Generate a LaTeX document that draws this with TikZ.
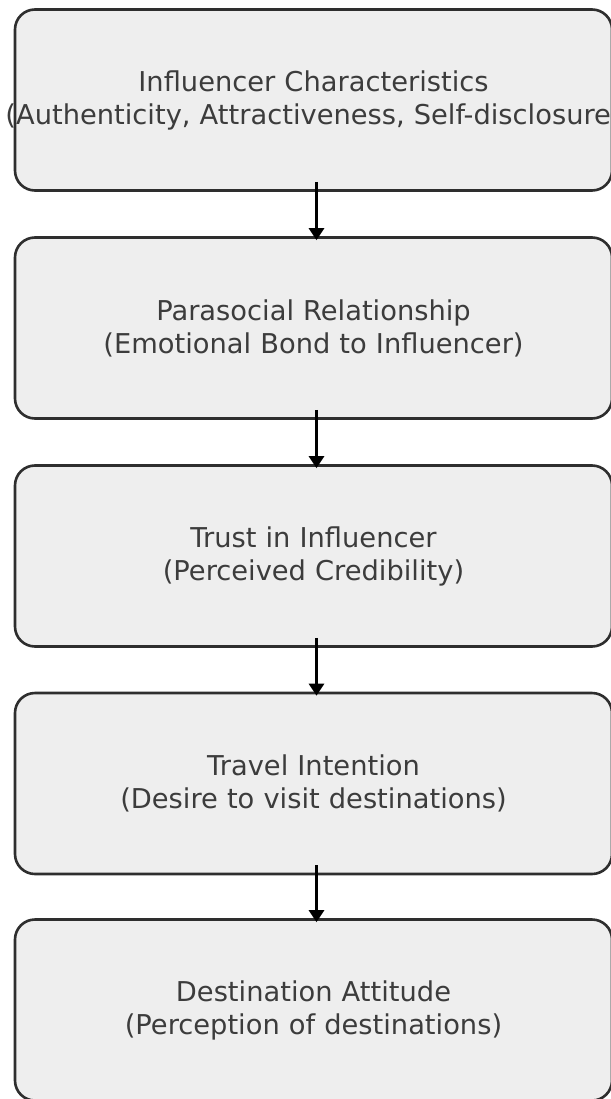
\documentclass[tikz,border=0pt]{standalone}
\usepackage{fontspec}
\setmainfont{DejaVu Sans}
\usetikzlibrary{arrows.meta}
\definecolor{boxfill}{HTML}{EEEEEE}
\definecolor{boxline}{HTML}{2E2E2E}
\definecolor{txt}{HTML}{3C3C3C}
\begin{document}
\begin{tikzpicture}[x=1pt,y=-1pt,
  stage/.style={draw=boxline, line width=2.6pt, fill=boxfill, rounded corners=20pt,
    minimum width=597pt, minimum height=181pt, inner sep=0pt, text width=560pt,
    align=center, text=txt, font=\fontsize{27.3}{33}\selectfont},
  flow/.style={draw=black, line width=2.8pt, -{Triangle[length=12pt,width=15pt]}}]
\useasboundingbox[fill=white] (0,0) rectangle (610,1099);
% the long second line is centred and allowed to run past the box edges
\node[stage] (b1) at (313.5,100) {Influencer Characteristics\\\makebox[\linewidth]{(Authenticity, Attractiveness, Self-disclosure)}};
\node[stage] (b2) at (313.5,328) {Parasocial Relationship\\(Emotional Bond to Influencer)};
\node[stage] (b3) at (313.5,556) {Trust in Influencer\\(Perceived Credibility)};
\node[stage] (b4) at (313.5,783.5) {Travel Intention\\(Desire to visit destinations)};
\node[stage] (b5) at (313.5,1010) {Destination Attitude\\(Perception of destinations)};
\foreach \a/\b in {b1/b2,b2/b3,b3/b4,b4/b5}
  \draw[flow] ([xshift=3pt,yshift=10pt]\a.south) -- ([xshift=3pt,yshift=-4pt]\b.north);
\end{tikzpicture}
\end{document}
